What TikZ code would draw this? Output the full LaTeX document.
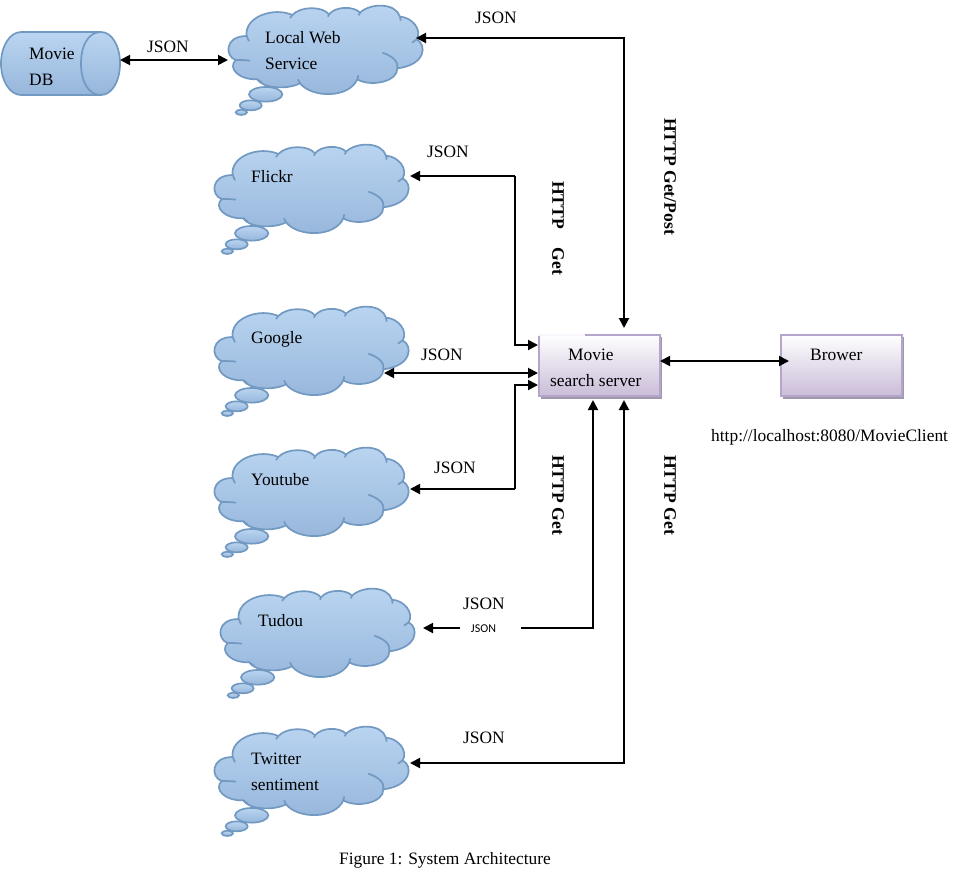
\documentclass[tikz,border=0pt]{standalone}
\usepackage{fontspec}
\setmainfont{Liberation Serif}
\usetikzlibrary{arrows.meta}
\definecolor{cloudline}{HTML}{7299C2}
\definecolor{cloudtop}{HTML}{BAD5F1}
\definecolor{cloudbot}{HTML}{96B6DB}
\definecolor{boxline}{HTML}{B5A5CB}
\definecolor{boxbot}{HTML}{CABDD9}
\definecolor{boxshadow}{HTML}{A098AC}
\tikzset{
  lab/.style={inner sep=0pt,font=\fontsize{17.4}{26}\selectfont,align=left,anchor=west},
  vlab/.style={inner sep=0pt,font=\fontsize{17.6}{20}\selectfont\bfseries,rotate=-90},
  conn/.style={line width=1.9pt,-{Triangle[length=10pt,width=10pt]}},
  conn2/.style={line width=1.9pt,{Triangle[length=10pt,width=10pt]}-{Triangle[length=10pt,width=10pt]}},
  cloudpart/.style={draw=cloudline,line width=1.7pt,top color=cloudtop,bottom color=cloudbot},
  boxpart/.style={draw=boxline,line width=2pt,top color=white,bottom color=boxbot,minimum width=121pt,minimum height=61pt,inner sep=0pt},
  cloud/.pic={
    \begin{scope}[x=0.3333pt,y=-0.3333pt]
    \path[cloudpart] (68,108) .. controls (60,50) and (150,20) .. (205,45)
      .. controls (230,18) and (295,18) .. (315,43)
      .. controls (335,18) and (390,18) .. (408,38)
      .. controls (440,8) and (515,8) .. (528,50)
      .. controls (565,52) and (595,90) .. (578,118)
      .. controls (610,135) and (605,195) .. (520,205)
      .. controls (522,245) and (440,262) .. (400,238)
      .. controls (375,295) and (265,295) .. (228,250)
      .. controls (190,270) and (115,265) .. (100,238)
      .. controls (45,240) and (10,205) .. (35,180)
      .. controls (3,170) and (0,108) .. (68,108) -- cycle;
    \draw[cloudline,line width=1.7pt]
      (35,180) .. controls (48,180) and (62,180) .. (78,182)
      (68,108) -- (75,124)
      (205,45) -- (198,54)
      (315,43) -- (312,50)
      (408,38) -- (404,46)
      (528,50) -- (530,62)
      (578,118) -- (564,128)
      (475,158) .. controls (505,168) and (525,185) .. (520,205)
      (400,238) -- (403,226)
      (228,250) -- (222,238)
      (100,238) -- (114,248);
    \path[cloudpart] (125,283) ellipse [x radius=50,y radius=22];
    \path[cloudpart] (80,316) ellipse [x radius=33,y radius=15];
    \path[cloudpart] (52,337) ellipse [x radius=17,y radius=8];
    \end{scope}
  }
}
\begin{document}
\begin{tikzpicture}[x=1pt,y=-1pt]
\useasboundingbox (0,0) rectangle (971,895);
% clouds (origin = left-4, top-6)
\pic at (224,0) {cloud};
\pic at (210,139) {cloud};
\pic at (210,301) {cloud};
\pic at (210,442) {cloud};
\pic at (216,583) {cloud};
\pic at (210,721) {cloud};
% database cylinder
\path[cloudpart] (21,32) -- (101,32) .. controls (112,32) and (120,46) .. (120,63.5)
  .. controls (120,81) and (112,95) .. (101,95) -- (21,95)
  .. controls (10,95) and (1,81) .. (1,63.5) .. controls (1,46) and (10,32) .. (21,32) -- cycle;
\draw[cloudline,line width=1.7pt] (101,32) .. controls (88,32) and (81,46) .. (81,63.5)
  .. controls (81,81) and (88,95) .. (101,95);
% boxes
\fill[boxshadow] (540.5,336.5) rectangle (662,398.5);
\fill[boxshadow] (782.5,336.5) rectangle (904,398.5);
\node[boxpart] (server) at (599,365) {};
\node[boxpart] (brower) at (841,365) {};
\draw[line width=2pt,white!90!boxline] (538,334.5) -- (585,334.5);
% connector end points
\coordinate (dbE) at (120,60);
\coordinate (localW) at (228,60);
\coordinate (localE) at (416,38);
\coordinate (c1) at (624,38);
\coordinate (serverTop) at (624,328);
\coordinate (flickrE) at (410,176);
\coordinate (c2) at (515,176);
\coordinate (s1) at (538,345);
\coordinate (c3) at (515,345);
\coordinate (googleE) at (384,373);
\coordinate (s2) at (538,373);
\coordinate (youE) at (410,489);
\coordinate (c4) at (515,489);
\coordinate (c5) at (515,385);
\coordinate (s3) at (538,385);
\coordinate (tudouE) at (423,628);
\coordinate (t1) at (460,628);
\coordinate (t2) at (521,628);
\coordinate (c6) at (593,628);
\coordinate (s4) at (593,400);
\coordinate (twE) at (410,763);
\coordinate (c7) at (624,763);
\coordinate (s5) at (624,400);
\coordinate (sE) at (660,361);
\coordinate (bW) at (789,361);
% connectors
\draw[conn2] (dbE) -- (localW);
\draw[conn2] (localE) -- (c1) -- (serverTop);
\draw[conn] (c2) -- (flickrE);
\draw[conn] (c2) -- (c3) -- (s1);
\draw[conn2] (googleE) -- (s2);
\draw[conn] (c4) -- (youE);
\draw[conn] (c4) -- (c5) -- (s3);
\draw[conn] (t1) -- (tudouE);
\draw[conn] (t2) -- (c6) -- (s4);
\draw[conn2] (twE) -- (c7) -- (s5);
\draw[conn2] (sE) -- (bW);
% text
\node[lab] (tdb) at (29,66.5) {Movie\\DB};
\node[lab] (tlocal) at (265,51) {Local Web\\Service};
\node[lab] (tflickr) at (251,177) {Flickr};
\node[lab] (tgoogle) at (251,339) {Google};
\node[lab] (tyou) at (251,480) {Youtube};
\node[lab] (ttudou) at (258,621) {Tudou};
\node[lab] (ttw) at (251,772) {Twitter\\sentiment};
\node[lab] (tserver) at (550,367.5) {\hspace*{18pt}Movie\\search server};
\node[lab] (tbrower) at (810,355) {Brower};
\node[lab] (j1) at (147,47) {JSON};
\node[lab] (j2) at (475,18) {JSON};
\node[lab] (j3) at (427,152) {JSON};
\node[lab] (j4) at (421,355) {JSON};
\node[lab] (j5) at (434,468) {JSON};
\node[lab] (j6) at (463,604) {JSON};
\node[inner sep=0pt,font=\fontsize{12}{14}\selectfont\fontspec{Carlito}] (j7) at (483.5,628.5) {JSON};
\node[lab] (j8) at (463,738) {JSON};
\node[vlab] (v1) at (670,176.5) {HTTP Get/Post};
\node[vlab] (v2) at (558,228) {HTTP\hspace{0.8em} Get};
\node[vlab] (v3) at (558,495) {HTTP Get};
\node[vlab] (v4) at (670,495) {HTTP Get};
\node[lab] (url) at (711,437) {http://localhost:8080/MovieClient};
\node[inner sep=0pt,font=\fontsize{17.4}{20}\selectfont] (cap) at (445,860) {Figure 1: System Architecture};
\end{tikzpicture}
\end{document}
